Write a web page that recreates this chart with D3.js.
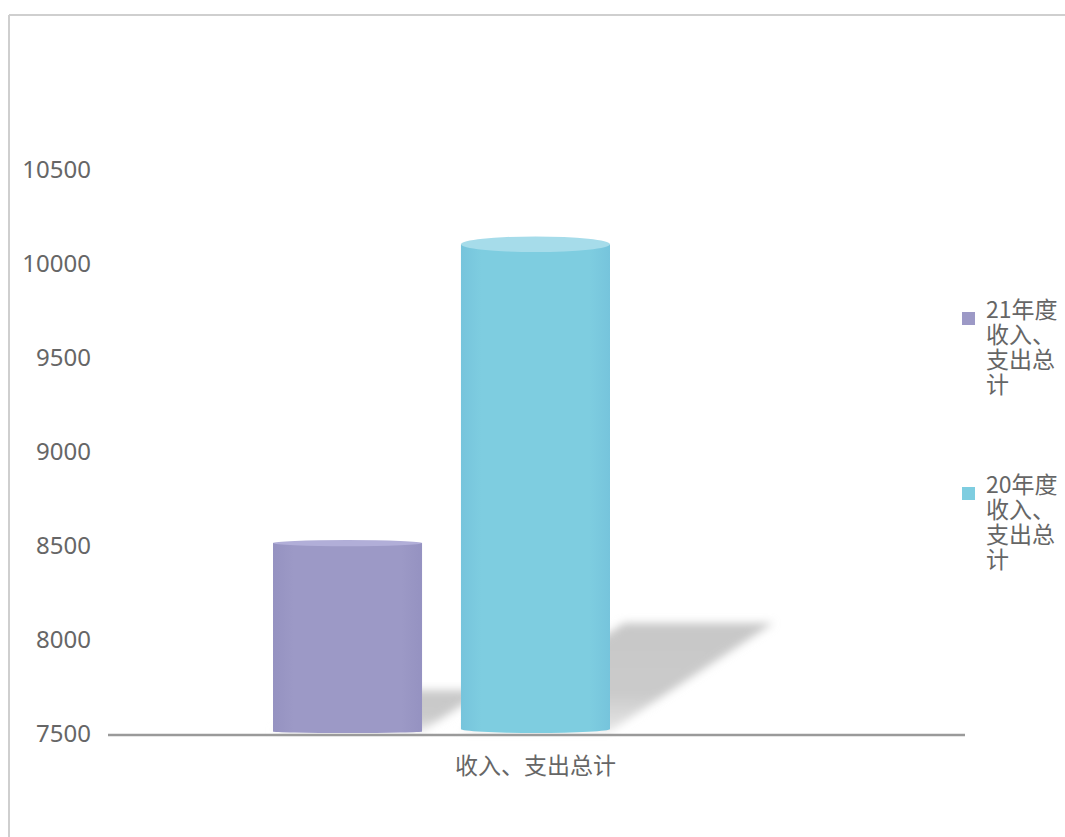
<!DOCTYPE html>
<html>
<head>
<meta charset="utf-8">
<script src="https://cdn.jsdelivr.net/npm/d3@7/dist/d3.min.js"></script>
<style>
  html, body { margin: 0; padding: 0; background: #ffffff; }
  svg { display: block; }
  text { font-family: "Noto Sans CJK SC", "Noto Sans", sans-serif; fill: #666666; }
</style>
</head>
<body>
<svg id="chart" width="1065" height="837"></svg>
<script>
// ---- data ----
const categories = ["收入、支出总计"];
const seriesNames = ["21年度收入、支出总计", "20年度收入、支出总计"];
const seriesValues = [8510, 10100];
const yTicks = [7500, 8000, 8500, 9000, 9500, 10000, 10500];
const seriesColors = ["#9c99c6", "#7ecde0"];
const seriesTopColors = ["#b1aed8", "#a6dcea"];
const seriesEdgeColors = ["#9592c1", "#76c4dc"];

const svg = d3.select("#chart");
const defs = svg.append("defs");

// frame
svg.append("line").attr("x1", 9).attr("x2", 1065).attr("y1", 15).attr("y2", 15)
  .attr("stroke", "#cfcfcf").attr("stroke-width", 2);
svg.append("line").attr("x1", 9).attr("x2", 9).attr("y1", 15).attr("y2", 837)
  .attr("stroke", "#cfcfcf").attr("stroke-width", 2);

// scales
const y = d3.scaleLinear().domain([7500, 10500]).range([733, 169]);
const xCat = d3.scaleBand().domain(categories).range([108, 965]);
const xSer = d3.scaleBand().domain(seriesNames).range([273, 610]).paddingInner(0.207);
const baseY = 733;

// y axis labels (no line)
const yAxis = d3.axisLeft(y).tickValues(yTicks).tickSize(0).tickPadding(0).tickFormat(d3.format("d"));
const yg = svg.append("g").attr("transform", "translate(91,0)").call(yAxis);
yg.select(".domain").remove();
yg.selectAll("text").style("font-size", "24px").attr("fill", "#666").attr("dy", "0.35em")
  .style("font-family", "'Noto Sans', sans-serif");

// shadow filter
const f = defs.append("filter").attr("id", "blur").attr("x", "-20%").attr("y", "-20%").attr("width", "140%").attr("height", "140%");
f.append("feGaussianBlur").attr("stdDeviation", 4);
const sg = defs.append("linearGradient").attr("id", "shadowGrad").attr("x1", 0).attr("y1", 1).attr("x2", 0).attr("y2", 0);
sg.append("stop").attr("offset", "0%").attr("stop-color", "#e6e6e6");
sg.append("stop").attr("offset", "35%").attr("stop-color", "#cacaca");
sg.append("stop").attr("offset", "100%").attr("stop-color", "#c8c8c8");

// side gradients
seriesNames.forEach((s, i) => {
  const g = defs.append("linearGradient").attr("id", "side" + i).attr("x1", 0).attr("x2", 1).attr("y1", 0).attr("y2", 0);
  g.append("stop").attr("offset", "0%").attr("stop-color", seriesEdgeColors[i]);
  g.append("stop").attr("offset", "14%").attr("stop-color", seriesColors[i]);
  g.append("stop").attr("offset", "86%").attr("stop-color", seriesColors[i]);
  g.append("stop").attr("offset", "100%").attr("stop-color", seriesEdgeColors[i]);
});

const data = seriesNames.map((s, i) => ({ name: s, value: seriesValues[i], i }));

// shadows (behind all bars)
const shadowG = svg.append("g");
data.forEach(d => {
  const x0 = xSer(d.name), w = xSer.bandwidth();
  const yt = y(d.value);
  const h = baseY - yt;
  const sh = h * 0.225, sdx = h * 0.334;
  const pts = [[x0, baseY - 2], [x0 + w, baseY - 2], [x0 + w + sdx, baseY - sh], [x0 + sdx, baseY - sh]];
  shadowG.append("polygon")
    .attr("points", pts.map(p => p.join(",")).join(" "))
    .attr("fill", "url(#shadowGrad)")
    .attr("filter", "url(#blur)");
});

// bars (cylinders)
const barG = svg.append("g");
data.forEach(d => {
  const x0 = xSer(d.name), w = xSer.bandwidth();
  const rx = w / 2;
  const yt = y(d.value);
  const h = baseY - yt;
  const ryTop = Math.max(2, h * 0.016);
  const ryBot = Math.max(1.5, h * 0.008);
  const yb = baseY - ryBot;
  const path = `M${x0},${yt} L${x0},${yb} A${rx},${ryBot} 0 0 0 ${x0 + w},${yb} L${x0 + w},${yt} Z`;
  barG.append("path").attr("d", path).attr("fill", `url(#side${d.i})`);
  barG.append("ellipse").attr("cx", x0 + rx).attr("cy", yt).attr("rx", rx).attr("ry", ryTop)
    .attr("fill", seriesTopColors[d.i]);
});

// x axis line
svg.append("line").attr("x1", 108).attr("x2", 965).attr("y1", 735).attr("y2", 735)
  .attr("stroke", "#9a9a9a").attr("stroke-width", 2.5);

// category label
svg.selectAll(".cat").data(categories).enter().append("text")
  .attr("class", "cat")
  .attr("x", d => xCat(d) + xCat.bandwidth() / 2 - 1)
  .attr("y", 774)
  .attr("text-anchor", "middle")
  .style("font-size", "23px")
  .text(d => d);

// legend
const legendTop = [318, 493];
const legendG = svg.append("g");
data.forEach((d, i) => {
  const gy = legendTop[i];
  legendG.append("rect").attr("x", 962).attr("y", gy - 6).attr("width", 13).attr("height", 13)
    .attr("fill", seriesColors[i]);
  const t = legendG.append("text").attr("x", 986).attr("y", gy).attr("dy", "0.35em").style("font-size", "23px");
  // wrap by measured width
  const maxW = 78;
  const chars = Array.from(d.name);
  let line = "";
  let lineNo = 0;
  let tspan = t.append("tspan").attr("x", 986).attr("dy", 0);
  chars.forEach(c => {
    tspan.text(line + c);
    if (tspan.node().getComputedTextLength() > maxW && line.length > 0) {
      tspan.text(line);
      line = c;
      lineNo++;
      tspan = t.append("tspan").attr("x", 986).attr("dy", 25).text(c);
    } else {
      line += c;
    }
  });
});
</script>
</body>
</html>
